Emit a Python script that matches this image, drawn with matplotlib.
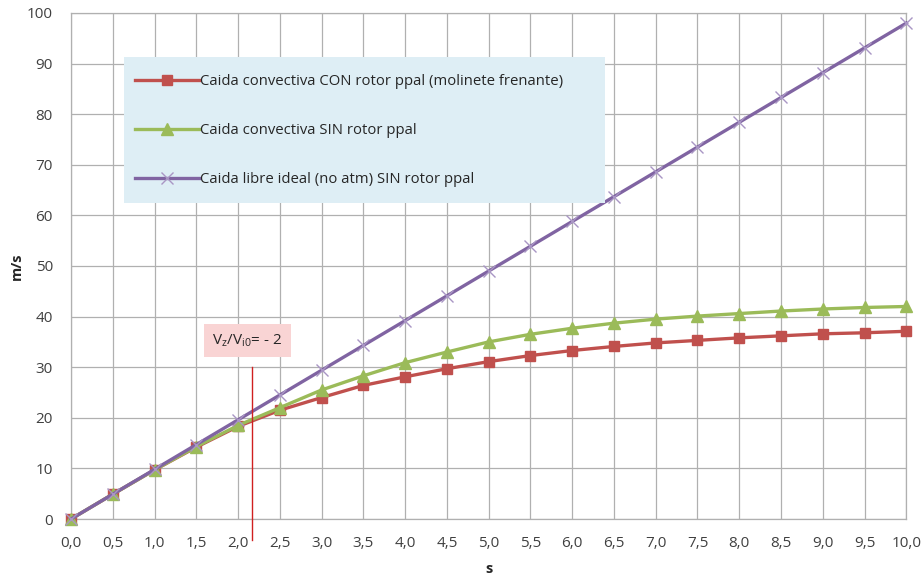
import matplotlib
matplotlib.use("Agg")
import matplotlib.pyplot as plt
from matplotlib.patches import Rectangle

t = [0.0, 0.5, 1.0, 1.5, 2.0, 2.5, 3.0, 3.5, 4.0, 4.5, 5.0, 5.5, 6.0, 6.5, 7.0, 7.5, 8.0, 8.5, 9.0, 9.5, 10.0]
con_rotor = [0.0, 4.9, 9.7, 14.2, 18.3, 21.5, 24.0, 26.4, 28.1, 29.7, 31.1, 32.3, 33.3, 34.1, 34.8, 35.3, 35.8, 36.2, 36.6, 36.8, 37.1]
sin_rotor = [0.0, 4.9, 9.7, 14.3, 18.5, 22.0, 25.5, 28.3, 30.9, 33.0, 35.0, 36.5, 37.7, 38.7, 39.5, 40.1, 40.6, 41.1, 41.5, 41.8, 42.0]
libre = [0.0, 4.9, 9.8, 14.7, 19.6, 24.5, 29.4, 34.3, 39.2, 44.1, 49.0, 53.9, 58.8, 63.7, 68.6, 73.5, 78.4, 83.3, 88.2, 93.1, 98.0]
labels = ["Caida convectiva CON rotor ppal (molinete frenante)",
          "Caida convectiva SIN rotor ppal",
          "Caida libre ideal (no atm) SIN rotor ppal"]
xticks = [0.5 * i for i in range(21)]
yticks = list(range(0, 101, 10))
marker_t = 2.17

plt.rcParams['font.family'] = ['Open Sans', 'DejaVu Sans']

fig = plt.figure(figsize=(9.22, 5.77), dpi=100)
ax = fig.add_axes([0.077, 0.1005, 0.906, 0.877])

c_red = '#C0504D'
c_green = '#9BBB59'
c_purple = '#8064A2'

l1, = ax.plot(t, con_rotor, color=c_red, lw=2.4, marker='s', ms=7, mec=c_red, mfc=c_red, zorder=3,
              clip_on=False, label=labels[0])
l2, = ax.plot(t, sin_rotor, color=c_green, lw=2.4, marker='^', ms=8, mec=c_green, mfc=c_green, zorder=3,
              clip_on=False, label=labels[1])
l3, = ax.plot(t, libre, color=c_purple, lw=2.4, marker='x', ms=9, mew=1.0, mec='#a996c4', zorder=3,
              clip_on=False, label=labels[2])

ax.set_xlim(0, 10)
ax.set_ylim(0, 100)
ax.set_xticks(xticks)
ax.set_xticklabels([f"{v:.1f}".replace('.', ',') for v in xticks])
ax.set_yticks(yticks)
ax.grid(True, color='#b0b0b0', lw=0.9)
ax.set_axisbelow(True)
for s in ax.spines.values():
    s.set_color('#b0b0b0')
    s.set_linewidth(0.9)
ax.tick_params(length=0, labelsize=11, colors='#404040')
ax.tick_params(axis='x', pad=12)
ax.tick_params(axis='y', pad=13)
ax.set_xlabel('s', fontsize=10.5, fontweight='bold', color='#262626')
ax.set_ylabel('m/s', fontsize=10.5, fontweight='bold', color='#262626')
ax.xaxis.set_label_coords(0.5, -0.085)
ax.yaxis.set_label_coords(-0.057, 0.5)

# legend background
ax.add_patch(Rectangle((0.0635, 0.6245), 0.576, 0.2885, transform=ax.transAxes,
                       facecolor='#deeef5', edgecolor='none', zorder=4))
leg = ax.legend(handles=[l1, l2, l3], loc='upper left', bbox_to_anchor=(0.0766, 0.880),
                frameon=False, fontsize=10.7, handlelength=4.3, handletextpad=0.1,
                labelspacing=2.3, borderpad=0, borderaxespad=0)
leg.set_zorder(5)
for txt in leg.get_texts():
    txt.set_color('#262626')

# annotation
ax.plot([marker_t, marker_t], [30, -4.2], color='#d02020', lw=1.0, clip_on=False, zorder=4)
ax.text(2.11, 35.3, r'V$_\mathregular{z}$/V$_\mathregular{i0}$= - 2', fontsize=11, color='#262626',
        ha='center', va='center', zorder=5,
        bbox=dict(boxstyle='square,pad=0.55', facecolor='#f9d4d4', edgecolor='none'))

fig.savefig('out.png', dpi=100)
